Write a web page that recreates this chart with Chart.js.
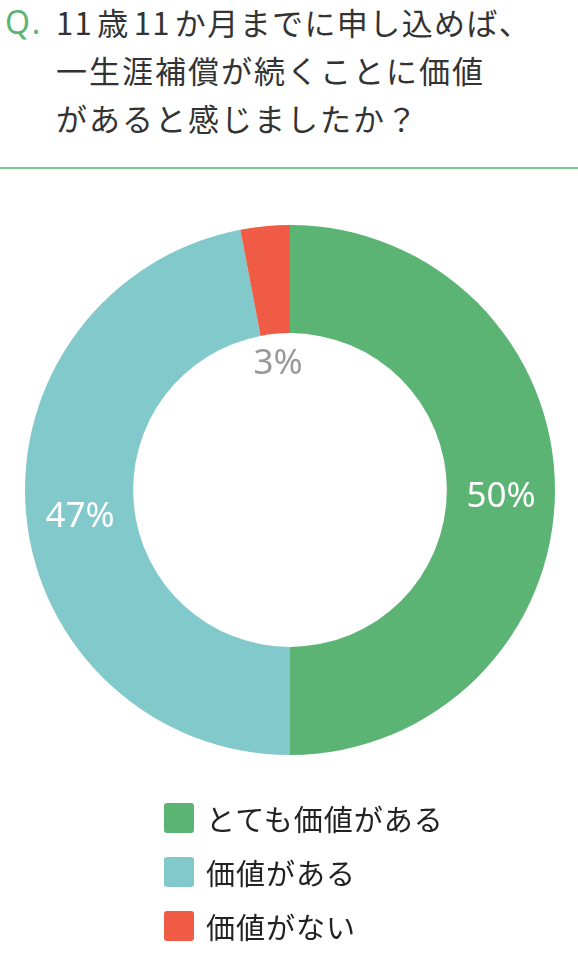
<!DOCTYPE html>
<html><head><meta charset="utf-8">
<script src="https://cdn.jsdelivr.net/npm/chart.js@4/dist/chart.umd.min.js"></script>
<style>
html,body{margin:0;padding:0;background:#fff;width:578px;height:953px;overflow:hidden;font-family:"Noto Sans CJK JP","Noto Sans",sans-serif;}
#title{position:absolute;left:0;top:0;width:578px;}
#q{position:absolute;left:5px;top:0px;font-family:"Noto Sans",sans-serif;font-size:32px;color:#5bb473;letter-spacing:3px;}
#qt{position:absolute;left:56px;top:-2px;font-size:31px;line-height:48px;color:#333;letter-spacing:2px;}
.g{margin-right:4px;}
.t{letter-spacing:1.4px;}
#rule{position:absolute;left:0;top:167px;width:578px;height:2px;background:#7cc690;}
#wrap{position:absolute;left:0;top:180px;width:578px;height:620px;}
#legend{position:absolute;left:164px;top:791px;}
.li{display:flex;align-items:center;height:54px;}
.sw{width:30px;height:30px;border-radius:3px;margin-right:12px;}
.lt{font-size:29px;color:#222;letter-spacing:1px;}
</style></head><body>
<div id="title"><div id="q">Q.</div><div id="qt"><span class="t"><span class="g">11</span><span class="g">歳</span><span class="g">11</span>か月までに申し込めば、</span><br>一生涯補償が続くことに価値<br>があると感じましたか？</div></div>
<div id="rule"></div>
<div id="wrap"><canvas id="c" width="578" height="620"></canvas></div>
<div id="legend"></div>
<script>
const categories = ["とても価値がある", "価値がある", "価値がない"];
const values = [50, 47, 3];
const valueLabels = ["50%", "47%", "3%"];
const colors = ["#5bb473", "#82c9cb", "#ef5b45"];

const labelPlugin = {
  id: "sliceLabels",
  afterDatasetsDraw(chart) {
    const ctx = chart.ctx;
    const meta = chart.getDatasetMeta(0);
    ctx.save();
    ctx.font = '35px "Noto Sans", sans-serif';
    ctx.textAlign = "center";
    ctx.textBaseline = "middle";
    meta.data.forEach((arc, i) => {
      const p = arc.getProps(["x","y","startAngle","endAngle","innerRadius","outerRadius"], true);
      const mid = (p.startAngle + p.endAngle) / 2;
      let r, color, dy;
      if (i === 2) { r = p.innerRadius - 30; color = "#999999"; dy = 0; }
      else { r = (p.innerRadius + p.outerRadius) / 2; color = "#ffffff"; dy = 7; }
      const x = p.x + Math.cos(mid) * r;
      const y = p.y + Math.sin(mid) * r + dy;
      ctx.fillStyle = color;
      ctx.fillText(valueLabels[i], x, y);
    });
    ctx.restore();
  }
};

const chart = new Chart(document.getElementById("c"), {
  type: "doughnut",
  data: { labels: categories, datasets: [{ data: values, backgroundColor: colors, borderWidth: 0 }] },
  options: {
    responsive: false,
    animation: false,
    cutout: "59.2%",
    layout: { padding: { top: 45, bottom: 45, left: 2, right: 0 } },
    plugins: { legend: { display: false }, tooltip: { enabled: false } }
  },
  plugins: [labelPlugin]
});

const lg = document.getElementById("legend");
chart.data.labels.forEach((l, i) => {
  const d = document.createElement("div"); d.className = "li";
  const s = document.createElement("div"); s.className = "sw"; s.style.background = chart.data.datasets[0].backgroundColor[i];
  const t = document.createElement("div"); t.className = "lt"; t.textContent = l;
  d.appendChild(s); d.appendChild(t); lg.appendChild(d);
});
</script>
</body></html>
